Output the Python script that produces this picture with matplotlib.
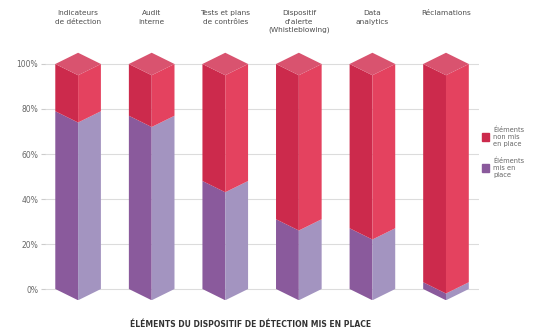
import numpy as np
import matplotlib
matplotlib.use('Agg')
import matplotlib.pyplot as plt
from matplotlib.patches import Patch

categories = ['Indicateurs\nde détection', 'Audit\ninterne', 'Tests et plans\nde contrôles',
              'Dispositif\nd\'alerte\n(Whistleblowing)', 'Data\nanalytics', 'Réclamations']
mis_en_place = [79, 77, 48, 31, 27, 3]
non_mis = [100 - v for v in mis_en_place]
yticks = [0, 20, 40, 60, 80, 100]

purple_l, purple_r = '#8a5a9c', '#a394c0'
red_l, red_r = '#cc2a4c', '#e4425f'
top_col = '#d9536f'

fig = plt.figure(figsize=(5.44, 3.35), dpi=100)
ax = fig.add_axes([0.0827, 0.1037, 0.798, 0.759])

hw = 0.31
d = 5.0


def faces(xc, y0, y1, cl, cr):
    ax.fill([xc - hw, xc, xc, xc - hw], [y0, y0 - d, y1 - d, y1], color=cl, lw=0, zorder=3)
    ax.fill([xc, xc + hw, xc + hw, xc], [y0 - d, y0, y1, y1 - d], color=cr, lw=0, zorder=3)


for i, (p, r) in enumerate(zip(mis_en_place, non_mis)):
    faces(i, 0, p, purple_l, purple_r)
    faces(i, p, p + r, red_l, red_r)
    top = p + r
    ax.fill([i - hw, i, i + hw, i], [top, top + d, top, top - d], color=top_col, lw=0, zorder=3)

for y in yticks:
    ax.axhline(y, color='#dcdcdc', lw=0.8, zorder=1)

ax.set_xlim(-0.45, 5.45)
ax.set_ylim(-5, 108)
ax.set_yticks(yticks)
ax.set_yticklabels([f'{v}%' for v in yticks], fontsize=5.5, color='#666666')
ax.tick_params(axis='y', length=3, color='#cccccc', pad=2)
ax.set_xticks([])
for s in ax.spines.values():
    s.set_visible(False)

for i, c in enumerate(categories):
    ax.text(i, 1.14, c, transform=ax.get_xaxis_transform(), ha='center', va='top',
            fontsize=5.3, color='#4d4d4d', linespacing=1.45)

handles = [Patch(color=red_l, label='Éléments\nnon mis\nen place'),
           Patch(color=purple_l, label='Éléments\nmis en\nplace')]
fig.legend(handles=handles, loc='upper left', bbox_to_anchor=(0.875, 0.64), frameon=False,
           fontsize=4.8, labelcolor='#666666', handlelength=1.1, handleheight=1.5,
           labelspacing=1.6, handletextpad=0.6)

fig.text(0.46, 0.03, 'ÉLÉMENTS DU DISPOSITIF DE DÉTECTION MIS EN PLACE', ha='center', va='center',
         fontsize=5.5, fontweight='bold', color='#333333')

fig.savefig('out.png', dpi=100)
